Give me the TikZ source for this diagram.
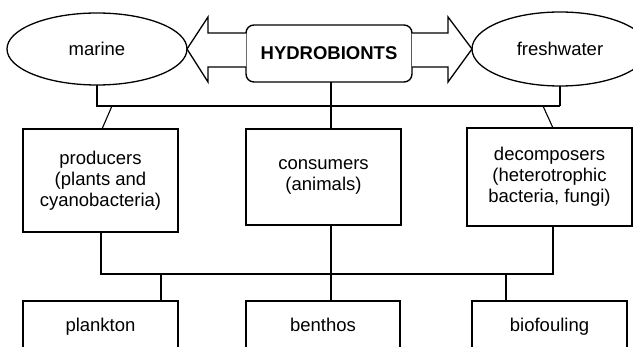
\documentclass[tikz,border=0pt]{standalone}
\usepackage{fontspec}
\setmainfont{Liberation Sans}
\usetikzlibrary{shapes.geometric,calc}
\begin{document}
\begin{tikzpicture}[x=1pt,y=-1pt,
  every node/.style={inner sep=0pt,outer sep=0pt,align=center,font=\fontsize{18.5}{21}\selectfont},
  ell/.style={draw,ellipse,line width=1.3pt},
  box/.style={draw,rectangle,line width=1.4pt},
  lowbox/.style={box,text height=13.5pt,text depth=4pt},
  thin/.style={line width=1.1pt},
  thick/.style={line width=2pt},
  arr/.style={draw,line width=1.3pt,line join=miter,fill=white}]
\useasboundingbox (0,0) rectangle (633,347);
\fill[white] (0,0) rectangle (633,347);
% top row
\node[ell,minimum width=180,minimum height=72] (mar) at (97,49) {marine};
\node[ell,minimum width=176,minimum height=74] (fw) at (560,49) {freshwater};
\node[box,rounded corners=8pt,minimum width=166,minimum height=57] (hyd) at (329,53.5) {\bfseries HYDROBIONTS};
% block arrows
\draw[arr] (hyd.west |- {(0,33)}) -- (208,33) -- (208,17) -- (mar.east) -- (208,82) -- (208,67) -- (hyd.west |- {(0,67)});
\draw[arr] (hyd.east |- {(0,33)}) -- (448,33) -- (448,17) -- (fw.west) -- (448,82) -- (448,67) -- (hyd.east |- {(0,67)});
% middle row
\node[box,minimum width=155,minimum height=103] (prod) at (100.5,180.5) {producers\\(plants and\\cyanobacteria)};
\node[box,minimum width=155,minimum height=96] (cons) at (323.5,177) {consumers\\(animals)};
\node[box,minimum width=165,minimum height=98] (dec) at (549.5,177) {decomposers\\(heterotrophic\\bacteria, fungi)};
% bottom row
\node[lowbox,minimum width=155,minimum height=52] (plank) at (100.5,327) {plankton};
\node[lowbox,minimum width=154,minimum height=52] (benth) at (323,327) {benthos};
\node[lowbox,minimum width=155,minimum height=52] (bio) at (549.5,327) {biofouling};
% upper bus
\coordinate (busL) at (97,106);
\coordinate (busR) at (560,106);
\draw[thin] (mar.south) -- (busL) -- (busR);
\draw[thick] (fw.south) -- (busR);
\draw[thin] (hyd.south -| {(331,0)}) -- (cons.north -| {(331,0)});
\draw[thin] (112,106) -- (prod.north -| {(102,0)});
\draw[thin] (543,106) -- (dec.north -| {(553,0)});
% lower bus
\coordinate (lowL) at (101,274);
\coordinate (lowR) at (553,274);
\draw[thick] (prod.south -| lowL) -- (lowL) -- (lowR) -- (dec.south -| lowR);
\draw[thick] (161,274) -- (plank.north -| {(161,0)});
\draw[thin] (cons.south -| {(331,0)}) -- (benth.north -| {(331,0)});
\draw[thin] (506,274) -- (bio.north -| {(506,0)});
\end{tikzpicture}
\end{document}
